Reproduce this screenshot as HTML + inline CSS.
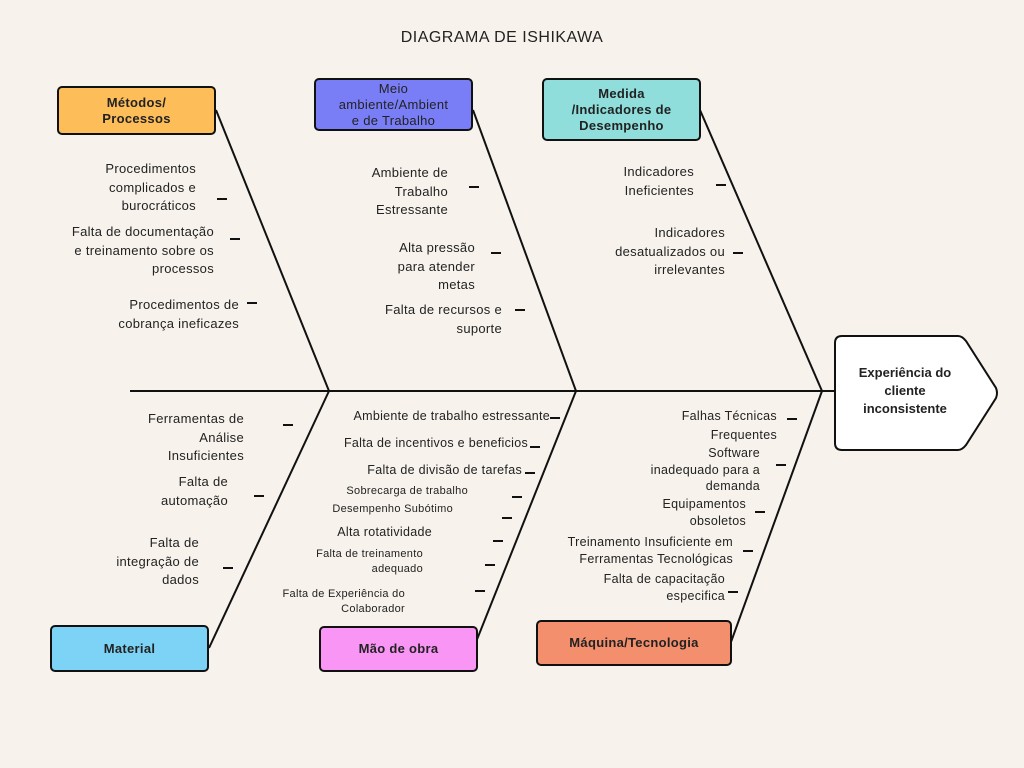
<!DOCTYPE html>
<html><head><meta charset="utf-8"><style>
body{margin:0;width:1024px;height:768px;background:#F7F3EC;position:relative;overflow:hidden;font-family:"Liberation Sans","DejaVu Sans",sans-serif;color:#222}
.b{position:absolute;border:2px solid #111;border-radius:5px;box-sizing:border-box;display:flex;align-items:center;justify-content:center;text-align:center;font-size:13px;line-height:16px;letter-spacing:.3px}
.bold{font-weight:bold}
.t{position:absolute;text-align:right;font-size:13px;line-height:18.5px;letter-spacing:.3px}
.s{font-size:11px;line-height:15px}
.d{position:absolute;width:10px;height:2px;background:#111}
</style></head><body>
<div style="position:absolute;left:0;width:1004px;top:29px;text-align:center;font-size:16px;letter-spacing:.5px">DIAGRAMA DE ISHIKAWA</div>
<svg width="1024" height="768" style="position:absolute;left:0;top:0">
<g stroke="#111" stroke-width="2" fill="none">
<line x1="130" y1="391" x2="835" y2="391"/>
<line x1="216" y1="110" x2="329" y2="391"/>
<line x1="473" y1="110" x2="576" y2="391"/>
<line x1="700" y1="110" x2="822" y2="391"/>
<line x1="329" y1="391" x2="209" y2="648"/>
<line x1="576" y1="391" x2="476" y2="642"/>
<line x1="822" y1="391" x2="731" y2="642"/>
<path d="M842 336 L958 336 Q962 336 966 341 L996 388 Q998 393 996 398 L966 445 Q962 450 958 450 L842 450 Q835 450 835 443 L835 343 Q835 336 842 336 Z" fill="#fff"/>
</g></svg>
<div style="position:absolute;left:845px;top:364px;width:120px;text-align:center;font-weight:bold;font-size:13px;line-height:18px">Experiência do<br>cliente<br>inconsistente</div>
<div class="b bold" style="left:57px;top:86px;width:159px;height:49px;background:#FDBE5A">Métodos/<br>Processos</div>
<div class="b" style="left:314px;top:78px;width:159px;height:53px;background:#7A7EF6">Meio<br>ambiente/Ambient<br>e de Trabalho</div>
<div class="b bold" style="left:542px;top:78px;width:159px;height:63px;background:#8FDEDC">Medida<br>/Indicadores de<br>Desempenho</div>
<div class="b bold" style="left:50px;top:625px;width:159px;height:47px;background:#7DD3F5">Material</div>
<div class="b bold" style="left:319px;top:626px;width:159px;height:46px;background:#F995F5">Mão de obra</div>
<div class="b bold" style="left:536px;top:620px;width:196px;height:46px;background:#F48F6E">Máquina/Tecnologia</div>

<div class="t" style="right:828px;top:160px">Procedimentos<br>complicados e<br>burocráticos</div><div class="d" style="left:217px;top:198px"></div>
<div class="t" style="right:810px;top:223px">Falta de documentação<br>e treinamento sobre os<br>processos</div><div class="d" style="left:230px;top:238px"></div>
<div class="t" style="right:785px;top:296px">Procedimentos de<br>cobrança ineficazes</div><div class="d" style="left:247px;top:302px"></div>

<div class="t" style="right:576px;top:164px">Ambiente de<br>Trabalho<br>Estressante</div><div class="d" style="left:469px;top:186px"></div>
<div class="t" style="right:549px;top:239px">Alta pressão<br>para atender<br>metas</div><div class="d" style="left:491px;top:252px"></div>
<div class="t" style="right:522px;top:301px">Falta de recursos e<br>suporte</div><div class="d" style="left:515px;top:309px"></div>

<div class="t" style="right:330px;top:163px">Indicadores<br>Ineficientes</div><div class="d" style="left:716px;top:184px"></div>
<div class="t" style="right:299px;top:224px">Indicadores<br>desatualizados ou<br>irrelevantes</div><div class="d" style="left:733px;top:252px"></div>

<div class="t" style="right:780px;top:410px">Ferramentas de<br>Análise<br>Insuficientes</div><div class="d" style="left:283px;top:424px"></div>
<div class="t" style="right:796px;top:473px">Falta de<br>automação</div><div class="d" style="left:254px;top:495px"></div>
<div class="t" style="right:825px;top:534px">Falta de<br>integração de<br>dados</div><div class="d" style="left:223px;top:567px"></div>

<div class="t" style="right:474px;top:407px;font-size:12.5px">Ambiente de trabalho estressante</div><div class="d" style="left:550px;top:417px"></div>
<div class="t" style="right:496px;top:434px;font-size:12.5px">Falta de incentivos e beneficios</div><div class="d" style="left:530px;top:446px"></div>
<div class="t" style="right:502px;top:461px;font-size:12.5px">Falta de divisão de tarefas</div><div class="d" style="left:525px;top:472px"></div>
<div class="t s" style="right:556px;top:484px">Sobrecarga de trabalho</div><div class="d" style="left:512px;top:496px"></div>
<div class="t s" style="right:571px;top:502px">Desempenho Subótimo</div><div class="d" style="left:502px;top:517px"></div>
<div class="t" style="right:592px;top:523px;font-size:12.5px">Alta rotatividade</div><div class="d" style="left:493px;top:540px"></div>
<div class="t s" style="right:601px;top:547px">Falta de treinamento<br>adequado</div><div class="d" style="left:485px;top:564px"></div>
<div class="t s" style="right:619px;top:587px">Falta de Experiência do<br>Colaborador</div><div class="d" style="left:475px;top:590px"></div>

<div class="t" style="right:247px;top:407px;font-size:12.5px">Falhas Técnicas<br>Frequentes</div><div class="d" style="left:787px;top:418px"></div>
<div class="t" style="right:264px;top:445px;font-size:12.5px;line-height:16.5px">Software<br>inadequado para a<br>demanda</div><div class="d" style="left:776px;top:464px"></div>
<div class="t" style="right:278px;top:496px;font-size:12.5px;line-height:16.5px">Equipamentos<br>obsoletos</div><div class="d" style="left:755px;top:511px"></div>
<div class="t" style="right:291px;top:534px;font-size:12.5px;line-height:16.5px">Treinamento Insuficiente em<br>Ferramentas Tecnológicas</div><div class="d" style="left:743px;top:550px"></div>
<div class="t" style="right:299px;top:571px;font-size:12.5px;line-height:16.5px">Falta de capacitação<br>especifica</div><div class="d" style="left:728px;top:591px"></div>
</body></html>
